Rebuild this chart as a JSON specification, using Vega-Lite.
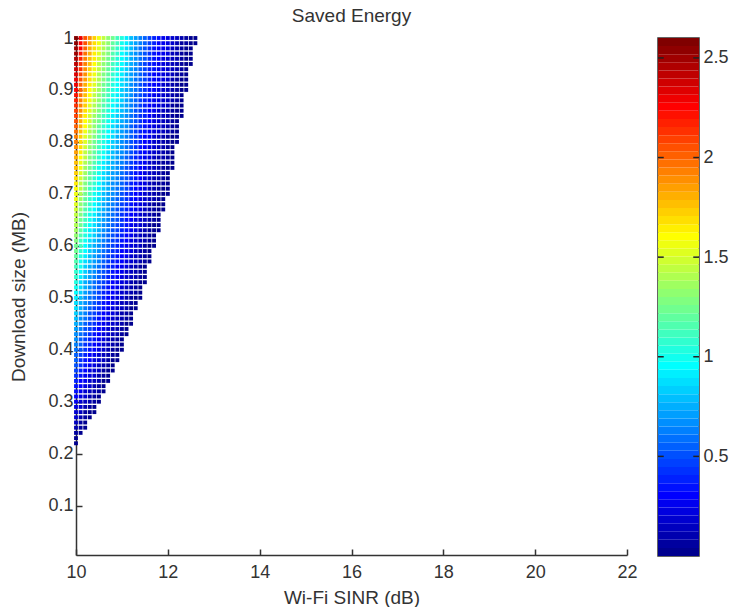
{"$schema":"https://vega.github.io/schema/vega-lite/v6.json","background":"white","padding":{"left":9,"top":7,"right":0,"bottom":0},"spacing":18,"config":{"view":{"stroke":null},"concat":{"spacing":18},"axis":{"labelFont":"Liberation Sans","titleFont":"Liberation Sans","labelFontSize":18,"titleFontSize":19,"labelColor":"#333333","titleColor":"#333333","titleFontWeight":"normal","domainColor":"#333333","tickColor":"#333333","domainWidth":1.5,"tickWidth":1.5,"grid":false,"labelFlush":false,"labelOverlap":false}},"datasets":{"jetbar":[{"l":0,"h":0.0406,"c":0.02},{"l":0.0406,"h":0.0813,"c":0.06},{"l":0.0813,"h":0.1219,"c":0.1},{"l":0.1219,"h":0.1625,"c":0.14},{"l":0.1625,"h":0.2031,"c":0.18},{"l":0.2031,"h":0.2438,"c":0.22},{"l":0.2438,"h":0.2844,"c":0.26},{"l":0.2844,"h":0.325,"c":0.3},{"l":0.325,"h":0.3656,"c":0.345},{"l":0.3656,"h":0.4063,"c":0.385},{"l":0.4063,"h":0.4469,"c":0.425},{"l":0.4469,"h":0.4875,"c":0.465},{"l":0.4875,"h":0.5281,"c":0.51},{"l":0.5281,"h":0.5688,"c":0.55},{"l":0.5688,"h":0.6094,"c":0.59},{"l":0.6094,"h":0.65,"c":0.63},{"l":0.65,"h":0.6906,"c":0.67},{"l":0.6906,"h":0.7313,"c":0.71},{"l":0.7313,"h":0.7719,"c":0.75},{"l":0.7719,"h":0.8125,"c":0.79},{"l":0.8125,"h":0.8531,"c":0.83},{"l":0.8531,"h":0.8938,"c":0.87},{"l":0.8938,"h":0.9344,"c":0.91},{"l":0.9344,"h":0.975,"c":0.955},{"l":0.975,"h":1.0156,"c":0.995},{"l":1.0156,"h":1.0563,"c":1.035},{"l":1.0563,"h":1.0969,"c":1.075},{"l":1.0969,"h":1.1375,"c":1.115},{"l":1.1375,"h":1.1781,"c":1.155},{"l":1.1781,"h":1.2188,"c":1.2},{"l":1.2188,"h":1.2594,"c":1.24},{"l":1.2594,"h":1.3,"c":1.28},{"l":1.3,"h":1.3406,"c":1.32},{"l":1.3406,"h":1.3813,"c":1.36},{"l":1.3813,"h":1.4219,"c":1.4},{"l":1.4219,"h":1.4625,"c":1.44},{"l":1.4625,"h":1.5031,"c":1.48},{"l":1.5031,"h":1.5438,"c":1.52},{"l":1.5438,"h":1.5844,"c":1.565},{"l":1.5844,"h":1.625,"c":1.605},{"l":1.625,"h":1.6656,"c":1.645},{"l":1.6656,"h":1.7063,"c":1.685},{"l":1.7063,"h":1.7469,"c":1.725},{"l":1.7469,"h":1.7875,"c":1.765},{"l":1.7875,"h":1.8281,"c":1.81},{"l":1.8281,"h":1.8688,"c":1.85},{"l":1.8688,"h":1.9094,"c":1.89},{"l":1.9094,"h":1.95,"c":1.93},{"l":1.95,"h":1.9906,"c":1.97},{"l":1.9906,"h":2.0313,"c":2.01},{"l":2.0313,"h":2.0719,"c":2.05},{"l":2.0719,"h":2.1125,"c":2.09},{"l":2.1125,"h":2.1531,"c":2.13},{"l":2.1531,"h":2.1938,"c":2.175},{"l":2.1938,"h":2.2344,"c":2.215},{"l":2.2344,"h":2.275,"c":2.255},{"l":2.275,"h":2.3156,"c":2.295},{"l":2.3156,"h":2.3563,"c":2.335},{"l":2.3563,"h":2.3969,"c":2.375},{"l":2.3969,"h":2.4375,"c":2.42},{"l":2.4375,"h":2.4781,"c":2.46},{"l":2.4781,"h":2.5188,"c":2.5},{"l":2.5188,"h":2.5594,"c":2.54},{"l":2.5594,"h":2.6,"c":2.58}],"pts":[
{"x":10,"y":0.22,"e":0},{"x":10,"y":0.23,"e":0.03},{"x":10,"y":0.24,"e":0.07},{"x":10,"y":0.25,"e":0.1},{"x":10,"y":0.26,"e":0.13},{"x":10,"y":0.27,"e":0.17},{"x":10,"y":0.28,"e":0.2},{"x":10,"y":0.29,"e":0.23},{"x":10,"y":0.3,"e":0.26},{"x":10,"y":0.31,"e":0.3},{"x":10,"y":0.32,"e":0.33},{"x":10,"y":0.33,"e":0.36},{"x":10,"y":0.34,"e":0.4},{"x":10,"y":0.35,"e":0.43},{"x":10,"y":0.36,"e":0.46},{"x":10,"y":0.37,"e":0.5},{"x":10,"y":0.38,"e":0.53},{"x":10,"y":0.39,"e":0.56},{"x":10,"y":0.4,"e":0.59},{"x":10,"y":0.41,"e":0.63},{"x":10,"y":0.42,"e":0.66},{"x":10,"y":0.43,"e":0.69},{"x":10,"y":0.44,"e":0.73},{"x":10,"y":0.45,"e":0.76},{"x":10,"y":0.46,"e":0.79},{"x":10,"y":0.47,"e":0.83},{"x":10,"y":0.48,"e":0.86},{"x":10,"y":0.49,"e":0.89},{"x":10,"y":0.5,"e":0.92},{"x":10,"y":0.51,"e":0.96},{"x":10,"y":0.52,"e":0.99},{"x":10,"y":0.53,"e":1.02},{"x":10,"y":0.54,"e":1.06},{"x":10,"y":0.55,"e":1.09},{"x":10,"y":0.56,"e":1.12},{"x":10,"y":0.57,"e":1.16},{"x":10,"y":0.58,"e":1.19},{"x":10,"y":0.59,"e":1.22},{"x":10,"y":0.6,"e":1.25},{"x":10,"y":0.61,"e":1.29},{"x":10,"y":0.62,"e":1.32},{"x":10,"y":0.63,"e":1.35},{"x":10,"y":0.64,"e":1.39},{"x":10,"y":0.65,"e":1.42},{"x":10,"y":0.66,"e":1.45},{"x":10,"y":0.67,"e":1.49},{"x":10,"y":0.68,"e":1.52},{"x":10,"y":0.69,"e":1.55},{"x":10,"y":0.7,"e":1.58},{"x":10,"y":0.71,"e":1.62},{"x":10,"y":0.72,"e":1.65},{"x":10,"y":0.73,"e":1.68},{"x":10,"y":0.74,"e":1.72},{"x":10,"y":0.75,"e":1.75},{"x":10,"y":0.76,"e":1.78},{"x":10,"y":0.77,"e":1.82},{"x":10,"y":0.78,"e":1.85},{"x":10,"y":0.79,"e":1.88},{"x":10,"y":0.8,"e":1.91},{"x":10,"y":0.81,"e":1.95},{"x":10,"y":0.82,"e":1.98},{"x":10,"y":0.83,"e":2.01},{"x":10,"y":0.84,"e":2.05},{"x":10,"y":0.85,"e":2.08},{"x":10,"y":0.86,"e":2.11},{"x":10,"y":0.87,"e":2.15},{"x":10,"y":0.88,"e":2.18},{"x":10,"y":0.89,"e":2.21},{"x":10,"y":0.9,"e":2.24},{"x":10,"y":0.91,"e":2.28},{"x":10,"y":0.92,"e":2.31},{"x":10,"y":0.93,"e":2.34},{"x":10,"y":0.94,"e":2.38},{"x":10,"y":0.95,"e":2.41},{"x":10,"y":0.96,"e":2.44},{"x":10,"y":0.97,"e":2.48},{"x":10,"y":0.98,"e":2.51},{"x":10,"y":0.99,"e":2.54},{"x":10,"y":1,"e":2.57},
{"x":10.1,"y":0.24,"e":0.02},{"x":10.1,"y":0.25,"e":0.05},{"x":10.1,"y":0.26,"e":0.08},{"x":10.1,"y":0.27,"e":0.11},{"x":10.1,"y":0.28,"e":0.14},{"x":10.1,"y":0.29,"e":0.17},{"x":10.1,"y":0.3,"e":0.2},{"x":10.1,"y":0.31,"e":0.23},{"x":10.1,"y":0.32,"e":0.26},{"x":10.1,"y":0.33,"e":0.29},{"x":10.1,"y":0.34,"e":0.32},{"x":10.1,"y":0.35,"e":0.35},{"x":10.1,"y":0.36,"e":0.38},{"x":10.1,"y":0.37,"e":0.41},{"x":10.1,"y":0.38,"e":0.44},{"x":10.1,"y":0.39,"e":0.47},{"x":10.1,"y":0.4,"e":0.5},{"x":10.1,"y":0.41,"e":0.53},{"x":10.1,"y":0.42,"e":0.56},{"x":10.1,"y":0.43,"e":0.59},{"x":10.1,"y":0.44,"e":0.62},{"x":10.1,"y":0.45,"e":0.65},{"x":10.1,"y":0.46,"e":0.68},{"x":10.1,"y":0.47,"e":0.71},{"x":10.1,"y":0.48,"e":0.74},{"x":10.1,"y":0.49,"e":0.77},{"x":10.1,"y":0.5,"e":0.8},{"x":10.1,"y":0.51,"e":0.83},{"x":10.1,"y":0.52,"e":0.86},{"x":10.1,"y":0.53,"e":0.89},{"x":10.1,"y":0.54,"e":0.92},{"x":10.1,"y":0.55,"e":0.95},{"x":10.1,"y":0.56,"e":0.98},{"x":10.1,"y":0.57,"e":1.01},{"x":10.1,"y":0.58,"e":1.04},{"x":10.1,"y":0.59,"e":1.07},{"x":10.1,"y":0.6,"e":1.1},{"x":10.1,"y":0.61,"e":1.13},{"x":10.1,"y":0.62,"e":1.16},{"x":10.1,"y":0.63,"e":1.19},{"x":10.1,"y":0.64,"e":1.22},{"x":10.1,"y":0.65,"e":1.25},{"x":10.1,"y":0.66,"e":1.28},{"x":10.1,"y":0.67,"e":1.31},{"x":10.1,"y":0.68,"e":1.34},{"x":10.1,"y":0.69,"e":1.37},{"x":10.1,"y":0.7,"e":1.4},{"x":10.1,"y":0.71,"e":1.43},{"x":10.1,"y":0.72,"e":1.46},{"x":10.1,"y":0.73,"e":1.49},{"x":10.1,"y":0.74,"e":1.52},{"x":10.1,"y":0.75,"e":1.55},{"x":10.1,"y":0.76,"e":1.58},{"x":10.1,"y":0.77,"e":1.61},{"x":10.1,"y":0.78,"e":1.64},{"x":10.1,"y":0.79,"e":1.67},{"x":10.1,"y":0.8,"e":1.7},{"x":10.1,"y":0.81,"e":1.73},{"x":10.1,"y":0.82,"e":1.76},{"x":10.1,"y":0.83,"e":1.79},{"x":10.1,"y":0.84,"e":1.82},{"x":10.1,"y":0.85,"e":1.85},{"x":10.1,"y":0.86,"e":1.88},{"x":10.1,"y":0.87,"e":1.91},{"x":10.1,"y":0.88,"e":1.94},{"x":10.1,"y":0.89,"e":1.97},{"x":10.1,"y":0.9,"e":2},{"x":10.1,"y":0.91,"e":2.03},{"x":10.1,"y":0.92,"e":2.06},{"x":10.1,"y":0.93,"e":2.09},{"x":10.1,"y":0.94,"e":2.12},{"x":10.1,"y":0.95,"e":2.15},{"x":10.1,"y":0.96,"e":2.18},{"x":10.1,"y":0.97,"e":2.21},{"x":10.1,"y":0.98,"e":2.24},{"x":10.1,"y":0.99,"e":2.27},{"x":10.1,"y":1,"e":2.3},
{"x":10.2,"y":0.25,"e":0},{"x":10.2,"y":0.26,"e":0.03},{"x":10.2,"y":0.27,"e":0.06},{"x":10.2,"y":0.28,"e":0.08},{"x":10.2,"y":0.29,"e":0.11},{"x":10.2,"y":0.3,"e":0.14},{"x":10.2,"y":0.31,"e":0.17},{"x":10.2,"y":0.32,"e":0.19},{"x":10.2,"y":0.33,"e":0.22},{"x":10.2,"y":0.34,"e":0.25},{"x":10.2,"y":0.35,"e":0.28},{"x":10.2,"y":0.36,"e":0.3},{"x":10.2,"y":0.37,"e":0.33},{"x":10.2,"y":0.38,"e":0.36},{"x":10.2,"y":0.39,"e":0.39},{"x":10.2,"y":0.4,"e":0.41},{"x":10.2,"y":0.41,"e":0.44},{"x":10.2,"y":0.42,"e":0.47},{"x":10.2,"y":0.43,"e":0.5},{"x":10.2,"y":0.44,"e":0.52},{"x":10.2,"y":0.45,"e":0.55},{"x":10.2,"y":0.46,"e":0.58},{"x":10.2,"y":0.47,"e":0.61},{"x":10.2,"y":0.48,"e":0.63},{"x":10.2,"y":0.49,"e":0.66},{"x":10.2,"y":0.5,"e":0.69},{"x":10.2,"y":0.51,"e":0.72},{"x":10.2,"y":0.52,"e":0.74},{"x":10.2,"y":0.53,"e":0.77},{"x":10.2,"y":0.54,"e":0.8},{"x":10.2,"y":0.55,"e":0.83},{"x":10.2,"y":0.56,"e":0.85},{"x":10.2,"y":0.57,"e":0.88},{"x":10.2,"y":0.58,"e":0.91},{"x":10.2,"y":0.59,"e":0.94},{"x":10.2,"y":0.6,"e":0.96},{"x":10.2,"y":0.61,"e":0.99},{"x":10.2,"y":0.62,"e":1.02},{"x":10.2,"y":0.63,"e":1.05},{"x":10.2,"y":0.64,"e":1.07},{"x":10.2,"y":0.65,"e":1.1},{"x":10.2,"y":0.66,"e":1.13},{"x":10.2,"y":0.67,"e":1.16},{"x":10.2,"y":0.68,"e":1.18},{"x":10.2,"y":0.69,"e":1.21},{"x":10.2,"y":0.7,"e":1.24},{"x":10.2,"y":0.71,"e":1.27},{"x":10.2,"y":0.72,"e":1.29},{"x":10.2,"y":0.73,"e":1.32},{"x":10.2,"y":0.74,"e":1.35},{"x":10.2,"y":0.75,"e":1.38},{"x":10.2,"y":0.76,"e":1.4},{"x":10.2,"y":0.77,"e":1.43},{"x":10.2,"y":0.78,"e":1.46},{"x":10.2,"y":0.79,"e":1.49},{"x":10.2,"y":0.8,"e":1.51},{"x":10.2,"y":0.81,"e":1.54},{"x":10.2,"y":0.82,"e":1.57},{"x":10.2,"y":0.83,"e":1.6},{"x":10.2,"y":0.84,"e":1.62},{"x":10.2,"y":0.85,"e":1.65},{"x":10.2,"y":0.86,"e":1.68},{"x":10.2,"y":0.87,"e":1.71},{"x":10.2,"y":0.88,"e":1.73},{"x":10.2,"y":0.89,"e":1.76},{"x":10.2,"y":0.9,"e":1.79},{"x":10.2,"y":0.91,"e":1.82},{"x":10.2,"y":0.92,"e":1.84},{"x":10.2,"y":0.93,"e":1.87},{"x":10.2,"y":0.94,"e":1.9},{"x":10.2,"y":0.95,"e":1.93},{"x":10.2,"y":0.96,"e":1.95},{"x":10.2,"y":0.97,"e":1.98},{"x":10.2,"y":0.98,"e":2.01},{"x":10.2,"y":0.99,"e":2.04},{"x":10.2,"y":1,"e":2.06},
{"x":10.3,"y":0.27,"e":0.01},{"x":10.3,"y":0.28,"e":0.04},{"x":10.3,"y":0.29,"e":0.06},{"x":10.3,"y":0.3,"e":0.09},{"x":10.3,"y":0.31,"e":0.11},{"x":10.3,"y":0.32,"e":0.14},{"x":10.3,"y":0.33,"e":0.17},{"x":10.3,"y":0.34,"e":0.19},{"x":10.3,"y":0.35,"e":0.22},{"x":10.3,"y":0.36,"e":0.24},{"x":10.3,"y":0.37,"e":0.27},{"x":10.3,"y":0.38,"e":0.29},{"x":10.3,"y":0.39,"e":0.32},{"x":10.3,"y":0.4,"e":0.34},{"x":10.3,"y":0.41,"e":0.37},{"x":10.3,"y":0.42,"e":0.4},{"x":10.3,"y":0.43,"e":0.42},{"x":10.3,"y":0.44,"e":0.45},{"x":10.3,"y":0.45,"e":0.47},{"x":10.3,"y":0.46,"e":0.5},{"x":10.3,"y":0.47,"e":0.52},{"x":10.3,"y":0.48,"e":0.55},{"x":10.3,"y":0.49,"e":0.57},{"x":10.3,"y":0.5,"e":0.6},{"x":10.3,"y":0.51,"e":0.62},{"x":10.3,"y":0.52,"e":0.65},{"x":10.3,"y":0.53,"e":0.68},{"x":10.3,"y":0.54,"e":0.7},{"x":10.3,"y":0.55,"e":0.73},{"x":10.3,"y":0.56,"e":0.75},{"x":10.3,"y":0.57,"e":0.78},{"x":10.3,"y":0.58,"e":0.8},{"x":10.3,"y":0.59,"e":0.83},{"x":10.3,"y":0.6,"e":0.85},{"x":10.3,"y":0.61,"e":0.88},{"x":10.3,"y":0.62,"e":0.91},{"x":10.3,"y":0.63,"e":0.93},{"x":10.3,"y":0.64,"e":0.96},{"x":10.3,"y":0.65,"e":0.98},{"x":10.3,"y":0.66,"e":1.01},{"x":10.3,"y":0.67,"e":1.03},{"x":10.3,"y":0.68,"e":1.06},{"x":10.3,"y":0.69,"e":1.08},{"x":10.3,"y":0.7,"e":1.11},{"x":10.3,"y":0.71,"e":1.13},{"x":10.3,"y":0.72,"e":1.16},{"x":10.3,"y":0.73,"e":1.19},{"x":10.3,"y":0.74,"e":1.21},{"x":10.3,"y":0.75,"e":1.24},{"x":10.3,"y":0.76,"e":1.26},{"x":10.3,"y":0.77,"e":1.29},{"x":10.3,"y":0.78,"e":1.31},{"x":10.3,"y":0.79,"e":1.34},{"x":10.3,"y":0.8,"e":1.36},{"x":10.3,"y":0.81,"e":1.39},{"x":10.3,"y":0.82,"e":1.42},{"x":10.3,"y":0.83,"e":1.44},{"x":10.3,"y":0.84,"e":1.47},{"x":10.3,"y":0.85,"e":1.49},{"x":10.3,"y":0.86,"e":1.52},{"x":10.3,"y":0.87,"e":1.54},{"x":10.3,"y":0.88,"e":1.57},{"x":10.3,"y":0.89,"e":1.59},{"x":10.3,"y":0.9,"e":1.62},{"x":10.3,"y":0.91,"e":1.64},{"x":10.3,"y":0.92,"e":1.67},{"x":10.3,"y":0.93,"e":1.7},{"x":10.3,"y":0.94,"e":1.72},{"x":10.3,"y":0.95,"e":1.75},{"x":10.3,"y":0.96,"e":1.77},{"x":10.3,"y":0.97,"e":1.8},{"x":10.3,"y":0.98,"e":1.82},{"x":10.3,"y":0.99,"e":1.85},{"x":10.3,"y":1,"e":1.87},
{"x":10.4,"y":0.28,"e":0},{"x":10.4,"y":0.29,"e":0.02},{"x":10.4,"y":0.3,"e":0.05},{"x":10.4,"y":0.31,"e":0.07},{"x":10.4,"y":0.32,"e":0.1},{"x":10.4,"y":0.33,"e":0.12},{"x":10.4,"y":0.34,"e":0.14},{"x":10.4,"y":0.35,"e":0.17},{"x":10.4,"y":0.36,"e":0.19},{"x":10.4,"y":0.37,"e":0.22},{"x":10.4,"y":0.38,"e":0.24},{"x":10.4,"y":0.39,"e":0.26},{"x":10.4,"y":0.4,"e":0.29},{"x":10.4,"y":0.41,"e":0.31},{"x":10.4,"y":0.42,"e":0.34},{"x":10.4,"y":0.43,"e":0.36},{"x":10.4,"y":0.44,"e":0.38},{"x":10.4,"y":0.45,"e":0.41},{"x":10.4,"y":0.46,"e":0.43},{"x":10.4,"y":0.47,"e":0.46},{"x":10.4,"y":0.48,"e":0.48},{"x":10.4,"y":0.49,"e":0.5},{"x":10.4,"y":0.5,"e":0.53},{"x":10.4,"y":0.51,"e":0.55},{"x":10.4,"y":0.52,"e":0.58},{"x":10.4,"y":0.53,"e":0.6},{"x":10.4,"y":0.54,"e":0.62},{"x":10.4,"y":0.55,"e":0.65},{"x":10.4,"y":0.56,"e":0.67},{"x":10.4,"y":0.57,"e":0.7},{"x":10.4,"y":0.58,"e":0.72},{"x":10.4,"y":0.59,"e":0.74},{"x":10.4,"y":0.6,"e":0.77},{"x":10.4,"y":0.61,"e":0.79},{"x":10.4,"y":0.62,"e":0.82},{"x":10.4,"y":0.63,"e":0.84},{"x":10.4,"y":0.64,"e":0.86},{"x":10.4,"y":0.65,"e":0.89},{"x":10.4,"y":0.66,"e":0.91},{"x":10.4,"y":0.67,"e":0.94},{"x":10.4,"y":0.68,"e":0.96},{"x":10.4,"y":0.69,"e":0.98},{"x":10.4,"y":0.7,"e":1.01},{"x":10.4,"y":0.71,"e":1.03},{"x":10.4,"y":0.72,"e":1.06},{"x":10.4,"y":0.73,"e":1.08},{"x":10.4,"y":0.74,"e":1.1},{"x":10.4,"y":0.75,"e":1.13},{"x":10.4,"y":0.76,"e":1.15},{"x":10.4,"y":0.77,"e":1.18},{"x":10.4,"y":0.78,"e":1.2},{"x":10.4,"y":0.79,"e":1.22},{"x":10.4,"y":0.8,"e":1.25},{"x":10.4,"y":0.81,"e":1.27},{"x":10.4,"y":0.82,"e":1.3},{"x":10.4,"y":0.83,"e":1.32},{"x":10.4,"y":0.84,"e":1.34},{"x":10.4,"y":0.85,"e":1.37},{"x":10.4,"y":0.86,"e":1.39},{"x":10.4,"y":0.87,"e":1.42},{"x":10.4,"y":0.88,"e":1.44},{"x":10.4,"y":0.89,"e":1.46},{"x":10.4,"y":0.9,"e":1.49},{"x":10.4,"y":0.91,"e":1.51},{"x":10.4,"y":0.92,"e":1.54},{"x":10.4,"y":0.93,"e":1.56},{"x":10.4,"y":0.94,"e":1.58},{"x":10.4,"y":0.95,"e":1.61},{"x":10.4,"y":0.96,"e":1.63},{"x":10.4,"y":0.97,"e":1.66},{"x":10.4,"y":0.98,"e":1.68},{"x":10.4,"y":0.99,"e":1.7},{"x":10.4,"y":1,"e":1.73},
{"x":10.5,"y":0.3,"e":0},{"x":10.5,"y":0.31,"e":0.02},{"x":10.5,"y":0.32,"e":0.05},{"x":10.5,"y":0.33,"e":0.07},{"x":10.5,"y":0.34,"e":0.09},{"x":10.5,"y":0.35,"e":0.11},{"x":10.5,"y":0.36,"e":0.14},{"x":10.5,"y":0.37,"e":0.16},{"x":10.5,"y":0.38,"e":0.18},{"x":10.5,"y":0.39,"e":0.2},{"x":10.5,"y":0.4,"e":0.23},{"x":10.5,"y":0.41,"e":0.25},{"x":10.5,"y":0.42,"e":0.27},{"x":10.5,"y":0.43,"e":0.29},{"x":10.5,"y":0.44,"e":0.32},{"x":10.5,"y":0.45,"e":0.34},{"x":10.5,"y":0.46,"e":0.36},{"x":10.5,"y":0.47,"e":0.38},{"x":10.5,"y":0.48,"e":0.41},{"x":10.5,"y":0.49,"e":0.43},{"x":10.5,"y":0.5,"e":0.45},{"x":10.5,"y":0.51,"e":0.47},{"x":10.5,"y":0.52,"e":0.5},{"x":10.5,"y":0.53,"e":0.52},{"x":10.5,"y":0.54,"e":0.54},{"x":10.5,"y":0.55,"e":0.56},{"x":10.5,"y":0.56,"e":0.59},{"x":10.5,"y":0.57,"e":0.61},{"x":10.5,"y":0.58,"e":0.63},{"x":10.5,"y":0.59,"e":0.65},{"x":10.5,"y":0.6,"e":0.68},{"x":10.5,"y":0.61,"e":0.7},{"x":10.5,"y":0.62,"e":0.72},{"x":10.5,"y":0.63,"e":0.74},{"x":10.5,"y":0.64,"e":0.77},{"x":10.5,"y":0.65,"e":0.79},{"x":10.5,"y":0.66,"e":0.81},{"x":10.5,"y":0.67,"e":0.83},{"x":10.5,"y":0.68,"e":0.86},{"x":10.5,"y":0.69,"e":0.88},{"x":10.5,"y":0.7,"e":0.9},{"x":10.5,"y":0.71,"e":0.92},{"x":10.5,"y":0.72,"e":0.95},{"x":10.5,"y":0.73,"e":0.97},{"x":10.5,"y":0.74,"e":0.99},{"x":10.5,"y":0.75,"e":1.01},{"x":10.5,"y":0.76,"e":1.04},{"x":10.5,"y":0.77,"e":1.06},{"x":10.5,"y":0.78,"e":1.08},{"x":10.5,"y":0.79,"e":1.1},{"x":10.5,"y":0.8,"e":1.13},{"x":10.5,"y":0.81,"e":1.15},{"x":10.5,"y":0.82,"e":1.17},{"x":10.5,"y":0.83,"e":1.19},{"x":10.5,"y":0.84,"e":1.22},{"x":10.5,"y":0.85,"e":1.24},{"x":10.5,"y":0.86,"e":1.26},{"x":10.5,"y":0.87,"e":1.28},{"x":10.5,"y":0.88,"e":1.31},{"x":10.5,"y":0.89,"e":1.33},{"x":10.5,"y":0.9,"e":1.35},{"x":10.5,"y":0.91,"e":1.37},{"x":10.5,"y":0.92,"e":1.4},{"x":10.5,"y":0.93,"e":1.42},{"x":10.5,"y":0.94,"e":1.44},{"x":10.5,"y":0.95,"e":1.46},{"x":10.5,"y":0.96,"e":1.49},{"x":10.5,"y":0.97,"e":1.51},{"x":10.5,"y":0.98,"e":1.53},{"x":10.5,"y":0.99,"e":1.55},{"x":10.5,"y":1,"e":1.58},
{"x":10.6,"y":0.32,"e":0},{"x":10.6,"y":0.33,"e":0.02},{"x":10.6,"y":0.34,"e":0.04},{"x":10.6,"y":0.35,"e":0.06},{"x":10.6,"y":0.36,"e":0.08},{"x":10.6,"y":0.37,"e":0.11},{"x":10.6,"y":0.38,"e":0.13},{"x":10.6,"y":0.39,"e":0.15},{"x":10.6,"y":0.4,"e":0.17},{"x":10.6,"y":0.41,"e":0.19},{"x":10.6,"y":0.42,"e":0.21},{"x":10.6,"y":0.43,"e":0.23},{"x":10.6,"y":0.44,"e":0.25},{"x":10.6,"y":0.45,"e":0.28},{"x":10.6,"y":0.46,"e":0.3},{"x":10.6,"y":0.47,"e":0.32},{"x":10.6,"y":0.48,"e":0.34},{"x":10.6,"y":0.49,"e":0.36},{"x":10.6,"y":0.5,"e":0.38},{"x":10.6,"y":0.51,"e":0.4},{"x":10.6,"y":0.52,"e":0.42},{"x":10.6,"y":0.53,"e":0.45},{"x":10.6,"y":0.54,"e":0.47},{"x":10.6,"y":0.55,"e":0.49},{"x":10.6,"y":0.56,"e":0.51},{"x":10.6,"y":0.57,"e":0.53},{"x":10.6,"y":0.58,"e":0.55},{"x":10.6,"y":0.59,"e":0.57},{"x":10.6,"y":0.6,"e":0.59},{"x":10.6,"y":0.61,"e":0.61},{"x":10.6,"y":0.62,"e":0.64},{"x":10.6,"y":0.63,"e":0.66},{"x":10.6,"y":0.64,"e":0.68},{"x":10.6,"y":0.65,"e":0.7},{"x":10.6,"y":0.66,"e":0.72},{"x":10.6,"y":0.67,"e":0.74},{"x":10.6,"y":0.68,"e":0.76},{"x":10.6,"y":0.69,"e":0.78},{"x":10.6,"y":0.7,"e":0.81},{"x":10.6,"y":0.71,"e":0.83},{"x":10.6,"y":0.72,"e":0.85},{"x":10.6,"y":0.73,"e":0.87},{"x":10.6,"y":0.74,"e":0.89},{"x":10.6,"y":0.75,"e":0.91},{"x":10.6,"y":0.76,"e":0.93},{"x":10.6,"y":0.77,"e":0.95},{"x":10.6,"y":0.78,"e":0.98},{"x":10.6,"y":0.79,"e":1},{"x":10.6,"y":0.8,"e":1.02},{"x":10.6,"y":0.81,"e":1.04},{"x":10.6,"y":0.82,"e":1.06},{"x":10.6,"y":0.83,"e":1.08},{"x":10.6,"y":0.84,"e":1.1},{"x":10.6,"y":0.85,"e":1.12},{"x":10.6,"y":0.86,"e":1.14},{"x":10.6,"y":0.87,"e":1.17},{"x":10.6,"y":0.88,"e":1.19},{"x":10.6,"y":0.89,"e":1.21},{"x":10.6,"y":0.9,"e":1.23},{"x":10.6,"y":0.91,"e":1.25},{"x":10.6,"y":0.92,"e":1.27},{"x":10.6,"y":0.93,"e":1.29},{"x":10.6,"y":0.94,"e":1.31},{"x":10.6,"y":0.95,"e":1.34},{"x":10.6,"y":0.96,"e":1.36},{"x":10.6,"y":0.97,"e":1.38},{"x":10.6,"y":0.98,"e":1.4},{"x":10.6,"y":0.99,"e":1.42},{"x":10.6,"y":1,"e":1.44},
{"x":10.7,"y":0.34,"e":0},{"x":10.7,"y":0.35,"e":0.02},{"x":10.7,"y":0.36,"e":0.04},{"x":10.7,"y":0.37,"e":0.06},{"x":10.7,"y":0.38,"e":0.08},{"x":10.7,"y":0.39,"e":0.1},{"x":10.7,"y":0.4,"e":0.12},{"x":10.7,"y":0.41,"e":0.14},{"x":10.7,"y":0.42,"e":0.16},{"x":10.7,"y":0.43,"e":0.18},{"x":10.7,"y":0.44,"e":0.2},{"x":10.7,"y":0.45,"e":0.22},{"x":10.7,"y":0.46,"e":0.24},{"x":10.7,"y":0.47,"e":0.26},{"x":10.7,"y":0.48,"e":0.28},{"x":10.7,"y":0.49,"e":0.3},{"x":10.7,"y":0.5,"e":0.32},{"x":10.7,"y":0.51,"e":0.34},{"x":10.7,"y":0.52,"e":0.36},{"x":10.7,"y":0.53,"e":0.38},{"x":10.7,"y":0.54,"e":0.4},{"x":10.7,"y":0.55,"e":0.42},{"x":10.7,"y":0.56,"e":0.44},{"x":10.7,"y":0.57,"e":0.46},{"x":10.7,"y":0.58,"e":0.48},{"x":10.7,"y":0.59,"e":0.5},{"x":10.7,"y":0.6,"e":0.52},{"x":10.7,"y":0.61,"e":0.54},{"x":10.7,"y":0.62,"e":0.56},{"x":10.7,"y":0.63,"e":0.58},{"x":10.7,"y":0.64,"e":0.6},{"x":10.7,"y":0.65,"e":0.62},{"x":10.7,"y":0.66,"e":0.64},{"x":10.7,"y":0.67,"e":0.66},{"x":10.7,"y":0.68,"e":0.68},{"x":10.7,"y":0.69,"e":0.7},{"x":10.7,"y":0.7,"e":0.72},{"x":10.7,"y":0.71,"e":0.74},{"x":10.7,"y":0.72,"e":0.76},{"x":10.7,"y":0.73,"e":0.78},{"x":10.7,"y":0.74,"e":0.8},{"x":10.7,"y":0.75,"e":0.82},{"x":10.7,"y":0.76,"e":0.84},{"x":10.7,"y":0.77,"e":0.86},{"x":10.7,"y":0.78,"e":0.88},{"x":10.7,"y":0.79,"e":0.9},{"x":10.7,"y":0.8,"e":0.92},{"x":10.7,"y":0.81,"e":0.94},{"x":10.7,"y":0.82,"e":0.96},{"x":10.7,"y":0.83,"e":0.98},{"x":10.7,"y":0.84,"e":1},{"x":10.7,"y":0.85,"e":1.02},{"x":10.7,"y":0.86,"e":1.04},{"x":10.7,"y":0.87,"e":1.06},{"x":10.7,"y":0.88,"e":1.08},{"x":10.7,"y":0.89,"e":1.1},{"x":10.7,"y":0.9,"e":1.12},{"x":10.7,"y":0.91,"e":1.14},{"x":10.7,"y":0.92,"e":1.16},{"x":10.7,"y":0.93,"e":1.18},{"x":10.7,"y":0.94,"e":1.2},{"x":10.7,"y":0.95,"e":1.22},{"x":10.7,"y":0.96,"e":1.24},{"x":10.7,"y":0.97,"e":1.26},{"x":10.7,"y":0.98,"e":1.28},{"x":10.7,"y":0.99,"e":1.3},{"x":10.7,"y":1,"e":1.32},
{"x":10.8,"y":0.36,"e":0},{"x":10.8,"y":0.37,"e":0.02},{"x":10.8,"y":0.38,"e":0.04},{"x":10.8,"y":0.39,"e":0.06},{"x":10.8,"y":0.4,"e":0.08},{"x":10.8,"y":0.41,"e":0.1},{"x":10.8,"y":0.42,"e":0.11},{"x":10.8,"y":0.43,"e":0.13},{"x":10.8,"y":0.44,"e":0.15},{"x":10.8,"y":0.45,"e":0.17},{"x":10.8,"y":0.46,"e":0.19},{"x":10.8,"y":0.47,"e":0.21},{"x":10.8,"y":0.48,"e":0.23},{"x":10.8,"y":0.49,"e":0.25},{"x":10.8,"y":0.5,"e":0.27},{"x":10.8,"y":0.51,"e":0.29},{"x":10.8,"y":0.52,"e":0.3},{"x":10.8,"y":0.53,"e":0.32},{"x":10.8,"y":0.54,"e":0.34},{"x":10.8,"y":0.55,"e":0.36},{"x":10.8,"y":0.56,"e":0.38},{"x":10.8,"y":0.57,"e":0.4},{"x":10.8,"y":0.58,"e":0.42},{"x":10.8,"y":0.59,"e":0.44},{"x":10.8,"y":0.6,"e":0.46},{"x":10.8,"y":0.61,"e":0.48},{"x":10.8,"y":0.62,"e":0.49},{"x":10.8,"y":0.63,"e":0.51},{"x":10.8,"y":0.64,"e":0.53},{"x":10.8,"y":0.65,"e":0.55},{"x":10.8,"y":0.66,"e":0.57},{"x":10.8,"y":0.67,"e":0.59},{"x":10.8,"y":0.68,"e":0.61},{"x":10.8,"y":0.69,"e":0.63},{"x":10.8,"y":0.7,"e":0.65},{"x":10.8,"y":0.71,"e":0.67},{"x":10.8,"y":0.72,"e":0.68},{"x":10.8,"y":0.73,"e":0.7},{"x":10.8,"y":0.74,"e":0.72},{"x":10.8,"y":0.75,"e":0.74},{"x":10.8,"y":0.76,"e":0.76},{"x":10.8,"y":0.77,"e":0.78},{"x":10.8,"y":0.78,"e":0.8},{"x":10.8,"y":0.79,"e":0.82},{"x":10.8,"y":0.8,"e":0.84},{"x":10.8,"y":0.81,"e":0.86},{"x":10.8,"y":0.82,"e":0.87},{"x":10.8,"y":0.83,"e":0.89},{"x":10.8,"y":0.84,"e":0.91},{"x":10.8,"y":0.85,"e":0.93},{"x":10.8,"y":0.86,"e":0.95},{"x":10.8,"y":0.87,"e":0.97},{"x":10.8,"y":0.88,"e":0.99},{"x":10.8,"y":0.89,"e":1.01},{"x":10.8,"y":0.9,"e":1.03},{"x":10.8,"y":0.91,"e":1.05},{"x":10.8,"y":0.92,"e":1.06},{"x":10.8,"y":0.93,"e":1.08},{"x":10.8,"y":0.94,"e":1.1},{"x":10.8,"y":0.95,"e":1.12},{"x":10.8,"y":0.96,"e":1.14},{"x":10.8,"y":0.97,"e":1.16},{"x":10.8,"y":0.98,"e":1.18},{"x":10.8,"y":0.99,"e":1.2},{"x":10.8,"y":1,"e":1.22},
{"x":10.9,"y":0.38,"e":0},{"x":10.9,"y":0.39,"e":0.02},{"x":10.9,"y":0.4,"e":0.04},{"x":10.9,"y":0.41,"e":0.05},{"x":10.9,"y":0.42,"e":0.07},{"x":10.9,"y":0.43,"e":0.09},{"x":10.9,"y":0.44,"e":0.11},{"x":10.9,"y":0.45,"e":0.13},{"x":10.9,"y":0.46,"e":0.14},{"x":10.9,"y":0.47,"e":0.16},{"x":10.9,"y":0.48,"e":0.18},{"x":10.9,"y":0.49,"e":0.2},{"x":10.9,"y":0.5,"e":0.22},{"x":10.9,"y":0.51,"e":0.23},{"x":10.9,"y":0.52,"e":0.25},{"x":10.9,"y":0.53,"e":0.27},{"x":10.9,"y":0.54,"e":0.29},{"x":10.9,"y":0.55,"e":0.31},{"x":10.9,"y":0.56,"e":0.32},{"x":10.9,"y":0.57,"e":0.34},{"x":10.9,"y":0.58,"e":0.36},{"x":10.9,"y":0.59,"e":0.38},{"x":10.9,"y":0.6,"e":0.4},{"x":10.9,"y":0.61,"e":0.41},{"x":10.9,"y":0.62,"e":0.43},{"x":10.9,"y":0.63,"e":0.45},{"x":10.9,"y":0.64,"e":0.47},{"x":10.9,"y":0.65,"e":0.49},{"x":10.9,"y":0.66,"e":0.5},{"x":10.9,"y":0.67,"e":0.52},{"x":10.9,"y":0.68,"e":0.54},{"x":10.9,"y":0.69,"e":0.56},{"x":10.9,"y":0.7,"e":0.58},{"x":10.9,"y":0.71,"e":0.59},{"x":10.9,"y":0.72,"e":0.61},{"x":10.9,"y":0.73,"e":0.63},{"x":10.9,"y":0.74,"e":0.65},{"x":10.9,"y":0.75,"e":0.67},{"x":10.9,"y":0.76,"e":0.68},{"x":10.9,"y":0.77,"e":0.7},{"x":10.9,"y":0.78,"e":0.72},{"x":10.9,"y":0.79,"e":0.74},{"x":10.9,"y":0.8,"e":0.76},{"x":10.9,"y":0.81,"e":0.77},{"x":10.9,"y":0.82,"e":0.79},{"x":10.9,"y":0.83,"e":0.81},{"x":10.9,"y":0.84,"e":0.83},{"x":10.9,"y":0.85,"e":0.85},{"x":10.9,"y":0.86,"e":0.86},{"x":10.9,"y":0.87,"e":0.88},{"x":10.9,"y":0.88,"e":0.9},{"x":10.9,"y":0.89,"e":0.92},{"x":10.9,"y":0.9,"e":0.94},{"x":10.9,"y":0.91,"e":0.95},{"x":10.9,"y":0.92,"e":0.97},{"x":10.9,"y":0.93,"e":0.99},{"x":10.9,"y":0.94,"e":1.01},{"x":10.9,"y":0.95,"e":1.03},{"x":10.9,"y":0.96,"e":1.04},{"x":10.9,"y":0.97,"e":1.06},{"x":10.9,"y":0.98,"e":1.08},{"x":10.9,"y":0.99,"e":1.1},{"x":10.9,"y":1,"e":1.12},
{"x":11,"y":0.4,"e":0},{"x":11,"y":0.41,"e":0.02},{"x":11,"y":0.42,"e":0.03},{"x":11,"y":0.43,"e":0.05},{"x":11,"y":0.44,"e":0.07},{"x":11,"y":0.45,"e":0.09},{"x":11,"y":0.46,"e":0.1},{"x":11,"y":0.47,"e":0.12},{"x":11,"y":0.48,"e":0.14},{"x":11,"y":0.49,"e":0.15},{"x":11,"y":0.5,"e":0.17},{"x":11,"y":0.51,"e":0.19},{"x":11,"y":0.52,"e":0.2},{"x":11,"y":0.53,"e":0.22},{"x":11,"y":0.54,"e":0.24},{"x":11,"y":0.55,"e":0.26},{"x":11,"y":0.56,"e":0.27},{"x":11,"y":0.57,"e":0.29},{"x":11,"y":0.58,"e":0.31},{"x":11,"y":0.59,"e":0.32},{"x":11,"y":0.6,"e":0.34},{"x":11,"y":0.61,"e":0.36},{"x":11,"y":0.62,"e":0.37},{"x":11,"y":0.63,"e":0.39},{"x":11,"y":0.64,"e":0.41},{"x":11,"y":0.65,"e":0.43},{"x":11,"y":0.66,"e":0.44},{"x":11,"y":0.67,"e":0.46},{"x":11,"y":0.68,"e":0.48},{"x":11,"y":0.69,"e":0.49},{"x":11,"y":0.7,"e":0.51},{"x":11,"y":0.71,"e":0.53},{"x":11,"y":0.72,"e":0.54},{"x":11,"y":0.73,"e":0.56},{"x":11,"y":0.74,"e":0.58},{"x":11,"y":0.75,"e":0.6},{"x":11,"y":0.76,"e":0.61},{"x":11,"y":0.77,"e":0.63},{"x":11,"y":0.78,"e":0.65},{"x":11,"y":0.79,"e":0.66},{"x":11,"y":0.8,"e":0.68},{"x":11,"y":0.81,"e":0.7},{"x":11,"y":0.82,"e":0.71},{"x":11,"y":0.83,"e":0.73},{"x":11,"y":0.84,"e":0.75},{"x":11,"y":0.85,"e":0.77},{"x":11,"y":0.86,"e":0.78},{"x":11,"y":0.87,"e":0.8},{"x":11,"y":0.88,"e":0.82},{"x":11,"y":0.89,"e":0.83},{"x":11,"y":0.9,"e":0.85},{"x":11,"y":0.91,"e":0.87},{"x":11,"y":0.92,"e":0.88},{"x":11,"y":0.93,"e":0.9},{"x":11,"y":0.94,"e":0.92},{"x":11,"y":0.95,"e":0.94},{"x":11,"y":0.96,"e":0.95},{"x":11,"y":0.97,"e":0.97},{"x":11,"y":0.98,"e":0.99},{"x":11,"y":0.99,"e":1},{"x":11,"y":1,"e":1.02},
{"x":11.1,"y":0.43,"e":0.01},{"x":11.1,"y":0.44,"e":0.02},{"x":11.1,"y":0.45,"e":0.04},{"x":11.1,"y":0.46,"e":0.06},{"x":11.1,"y":0.47,"e":0.07},{"x":11.1,"y":0.48,"e":0.09},{"x":11.1,"y":0.49,"e":0.1},{"x":11.1,"y":0.5,"e":0.12},{"x":11.1,"y":0.51,"e":0.14},{"x":11.1,"y":0.52,"e":0.15},{"x":11.1,"y":0.53,"e":0.17},{"x":11.1,"y":0.54,"e":0.18},{"x":11.1,"y":0.55,"e":0.2},{"x":11.1,"y":0.56,"e":0.22},{"x":11.1,"y":0.57,"e":0.23},{"x":11.1,"y":0.58,"e":0.25},{"x":11.1,"y":0.59,"e":0.26},{"x":11.1,"y":0.6,"e":0.28},{"x":11.1,"y":0.61,"e":0.3},{"x":11.1,"y":0.62,"e":0.31},{"x":11.1,"y":0.63,"e":0.33},{"x":11.1,"y":0.64,"e":0.34},{"x":11.1,"y":0.65,"e":0.36},{"x":11.1,"y":0.66,"e":0.38},{"x":11.1,"y":0.67,"e":0.39},{"x":11.1,"y":0.68,"e":0.41},{"x":11.1,"y":0.69,"e":0.42},{"x":11.1,"y":0.7,"e":0.44},{"x":11.1,"y":0.71,"e":0.46},{"x":11.1,"y":0.72,"e":0.47},{"x":11.1,"y":0.73,"e":0.49},{"x":11.1,"y":0.74,"e":0.5},{"x":11.1,"y":0.75,"e":0.52},{"x":11.1,"y":0.76,"e":0.54},{"x":11.1,"y":0.77,"e":0.55},{"x":11.1,"y":0.78,"e":0.57},{"x":11.1,"y":0.79,"e":0.58},{"x":11.1,"y":0.8,"e":0.6},{"x":11.1,"y":0.81,"e":0.62},{"x":11.1,"y":0.82,"e":0.63},{"x":11.1,"y":0.83,"e":0.65},{"x":11.1,"y":0.84,"e":0.66},{"x":11.1,"y":0.85,"e":0.68},{"x":11.1,"y":0.86,"e":0.7},{"x":11.1,"y":0.87,"e":0.71},{"x":11.1,"y":0.88,"e":0.73},{"x":11.1,"y":0.89,"e":0.74},{"x":11.1,"y":0.9,"e":0.76},{"x":11.1,"y":0.91,"e":0.78},{"x":11.1,"y":0.92,"e":0.79},{"x":11.1,"y":0.93,"e":0.81},{"x":11.1,"y":0.94,"e":0.82},{"x":11.1,"y":0.95,"e":0.84},{"x":11.1,"y":0.96,"e":0.86},{"x":11.1,"y":0.97,"e":0.87},{"x":11.1,"y":0.98,"e":0.89},{"x":11.1,"y":0.99,"e":0.9},{"x":11.1,"y":1,"e":0.92},
{"x":11.2,"y":0.45,"e":0},{"x":11.2,"y":0.46,"e":0.01},{"x":11.2,"y":0.47,"e":0.03},{"x":11.2,"y":0.48,"e":0.04},{"x":11.2,"y":0.49,"e":0.06},{"x":11.2,"y":0.5,"e":0.07},{"x":11.2,"y":0.51,"e":0.09},{"x":11.2,"y":0.52,"e":0.1},{"x":11.2,"y":0.53,"e":0.12},{"x":11.2,"y":0.54,"e":0.13},{"x":11.2,"y":0.55,"e":0.15},{"x":11.2,"y":0.56,"e":0.16},{"x":11.2,"y":0.57,"e":0.18},{"x":11.2,"y":0.58,"e":0.19},{"x":11.2,"y":0.59,"e":0.21},{"x":11.2,"y":0.6,"e":0.22},{"x":11.2,"y":0.61,"e":0.24},{"x":11.2,"y":0.62,"e":0.25},{"x":11.2,"y":0.63,"e":0.27},{"x":11.2,"y":0.64,"e":0.28},{"x":11.2,"y":0.65,"e":0.3},{"x":11.2,"y":0.66,"e":0.31},{"x":11.2,"y":0.67,"e":0.33},{"x":11.2,"y":0.68,"e":0.34},{"x":11.2,"y":0.69,"e":0.36},{"x":11.2,"y":0.7,"e":0.37},{"x":11.2,"y":0.71,"e":0.38},{"x":11.2,"y":0.72,"e":0.4},{"x":11.2,"y":0.73,"e":0.41},{"x":11.2,"y":0.74,"e":0.43},{"x":11.2,"y":0.75,"e":0.44},{"x":11.2,"y":0.76,"e":0.46},{"x":11.2,"y":0.77,"e":0.47},{"x":11.2,"y":0.78,"e":0.49},{"x":11.2,"y":0.79,"e":0.5},{"x":11.2,"y":0.8,"e":0.52},{"x":11.2,"y":0.81,"e":0.53},{"x":11.2,"y":0.82,"e":0.55},{"x":11.2,"y":0.83,"e":0.56},{"x":11.2,"y":0.84,"e":0.58},{"x":11.2,"y":0.85,"e":0.59},{"x":11.2,"y":0.86,"e":0.61},{"x":11.2,"y":0.87,"e":0.62},{"x":11.2,"y":0.88,"e":0.64},{"x":11.2,"y":0.89,"e":0.65},{"x":11.2,"y":0.9,"e":0.67},{"x":11.2,"y":0.91,"e":0.68},{"x":11.2,"y":0.92,"e":0.7},{"x":11.2,"y":0.93,"e":0.71},{"x":11.2,"y":0.94,"e":0.73},{"x":11.2,"y":0.95,"e":0.74},{"x":11.2,"y":0.96,"e":0.75},{"x":11.2,"y":0.97,"e":0.77},{"x":11.2,"y":0.98,"e":0.78},{"x":11.2,"y":0.99,"e":0.8},{"x":11.2,"y":1,"e":0.81},
{"x":11.3,"y":0.48,"e":0.01},{"x":11.3,"y":0.49,"e":0.02},{"x":11.3,"y":0.5,"e":0.03},{"x":11.3,"y":0.51,"e":0.05},{"x":11.3,"y":0.52,"e":0.06},{"x":11.3,"y":0.53,"e":0.07},{"x":11.3,"y":0.54,"e":0.09},{"x":11.3,"y":0.55,"e":0.1},{"x":11.3,"y":0.56,"e":0.12},{"x":11.3,"y":0.57,"e":0.13},{"x":11.3,"y":0.58,"e":0.14},{"x":11.3,"y":0.59,"e":0.16},{"x":11.3,"y":0.6,"e":0.17},{"x":11.3,"y":0.61,"e":0.18},{"x":11.3,"y":0.62,"e":0.2},{"x":11.3,"y":0.63,"e":0.21},{"x":11.3,"y":0.64,"e":0.22},{"x":11.3,"y":0.65,"e":0.24},{"x":11.3,"y":0.66,"e":0.25},{"x":11.3,"y":0.67,"e":0.27},{"x":11.3,"y":0.68,"e":0.28},{"x":11.3,"y":0.69,"e":0.29},{"x":11.3,"y":0.7,"e":0.31},{"x":11.3,"y":0.71,"e":0.32},{"x":11.3,"y":0.72,"e":0.33},{"x":11.3,"y":0.73,"e":0.35},{"x":11.3,"y":0.74,"e":0.36},{"x":11.3,"y":0.75,"e":0.37},{"x":11.3,"y":0.76,"e":0.39},{"x":11.3,"y":0.77,"e":0.4},{"x":11.3,"y":0.78,"e":0.41},{"x":11.3,"y":0.79,"e":0.43},{"x":11.3,"y":0.8,"e":0.44},{"x":11.3,"y":0.81,"e":0.46},{"x":11.3,"y":0.82,"e":0.47},{"x":11.3,"y":0.83,"e":0.48},{"x":11.3,"y":0.84,"e":0.5},{"x":11.3,"y":0.85,"e":0.51},{"x":11.3,"y":0.86,"e":0.52},{"x":11.3,"y":0.87,"e":0.54},{"x":11.3,"y":0.88,"e":0.55},{"x":11.3,"y":0.89,"e":0.56},{"x":11.3,"y":0.9,"e":0.58},{"x":11.3,"y":0.91,"e":0.59},{"x":11.3,"y":0.92,"e":0.6},{"x":11.3,"y":0.93,"e":0.62},{"x":11.3,"y":0.94,"e":0.63},{"x":11.3,"y":0.95,"e":0.65},{"x":11.3,"y":0.96,"e":0.66},{"x":11.3,"y":0.97,"e":0.67},{"x":11.3,"y":0.98,"e":0.69},{"x":11.3,"y":0.99,"e":0.7},{"x":11.3,"y":1,"e":0.71},
{"x":11.4,"y":0.5,"e":0},{"x":11.4,"y":0.51,"e":0.01},{"x":11.4,"y":0.52,"e":0.03},{"x":11.4,"y":0.53,"e":0.04},{"x":11.4,"y":0.54,"e":0.05},{"x":11.4,"y":0.55,"e":0.06},{"x":11.4,"y":0.56,"e":0.08},{"x":11.4,"y":0.57,"e":0.09},{"x":11.4,"y":0.58,"e":0.1},{"x":11.4,"y":0.59,"e":0.11},{"x":11.4,"y":0.6,"e":0.13},{"x":11.4,"y":0.61,"e":0.14},{"x":11.4,"y":0.62,"e":0.15},{"x":11.4,"y":0.63,"e":0.16},{"x":11.4,"y":0.64,"e":0.18},{"x":11.4,"y":0.65,"e":0.19},{"x":11.4,"y":0.66,"e":0.2},{"x":11.4,"y":0.67,"e":0.21},{"x":11.4,"y":0.68,"e":0.23},{"x":11.4,"y":0.69,"e":0.24},{"x":11.4,"y":0.7,"e":0.25},{"x":11.4,"y":0.71,"e":0.26},{"x":11.4,"y":0.72,"e":0.28},{"x":11.4,"y":0.73,"e":0.29},{"x":11.4,"y":0.74,"e":0.3},{"x":11.4,"y":0.75,"e":0.31},{"x":11.4,"y":0.76,"e":0.33},{"x":11.4,"y":0.77,"e":0.34},{"x":11.4,"y":0.78,"e":0.35},{"x":11.4,"y":0.79,"e":0.36},{"x":11.4,"y":0.8,"e":0.38},{"x":11.4,"y":0.81,"e":0.39},{"x":11.4,"y":0.82,"e":0.4},{"x":11.4,"y":0.83,"e":0.41},{"x":11.4,"y":0.84,"e":0.43},{"x":11.4,"y":0.85,"e":0.44},{"x":11.4,"y":0.86,"e":0.45},{"x":11.4,"y":0.87,"e":0.46},{"x":11.4,"y":0.88,"e":0.48},{"x":11.4,"y":0.89,"e":0.49},{"x":11.4,"y":0.9,"e":0.5},{"x":11.4,"y":0.91,"e":0.51},{"x":11.4,"y":0.92,"e":0.53},{"x":11.4,"y":0.93,"e":0.54},{"x":11.4,"y":0.94,"e":0.55},{"x":11.4,"y":0.95,"e":0.56},{"x":11.4,"y":0.96,"e":0.58},{"x":11.4,"y":0.97,"e":0.59},{"x":11.4,"y":0.98,"e":0.6},{"x":11.4,"y":0.99,"e":0.61},{"x":11.4,"y":1,"e":0.63},
{"x":11.5,"y":0.53,"e":0},{"x":11.5,"y":0.54,"e":0.01},{"x":11.5,"y":0.55,"e":0.02},{"x":11.5,"y":0.56,"e":0.03},{"x":11.5,"y":0.57,"e":0.05},{"x":11.5,"y":0.58,"e":0.06},{"x":11.5,"y":0.59,"e":0.07},{"x":11.5,"y":0.6,"e":0.08},{"x":11.5,"y":0.61,"e":0.09},{"x":11.5,"y":0.62,"e":0.1},{"x":11.5,"y":0.63,"e":0.12},{"x":11.5,"y":0.64,"e":0.13},{"x":11.5,"y":0.65,"e":0.14},{"x":11.5,"y":0.66,"e":0.15},{"x":11.5,"y":0.67,"e":0.16},{"x":11.5,"y":0.68,"e":0.17},{"x":11.5,"y":0.69,"e":0.18},{"x":11.5,"y":0.7,"e":0.2},{"x":11.5,"y":0.71,"e":0.21},{"x":11.5,"y":0.72,"e":0.22},{"x":11.5,"y":0.73,"e":0.23},{"x":11.5,"y":0.74,"e":0.24},{"x":11.5,"y":0.75,"e":0.25},{"x":11.5,"y":0.76,"e":0.26},{"x":11.5,"y":0.77,"e":0.28},{"x":11.5,"y":0.78,"e":0.29},{"x":11.5,"y":0.79,"e":0.3},{"x":11.5,"y":0.8,"e":0.31},{"x":11.5,"y":0.81,"e":0.32},{"x":11.5,"y":0.82,"e":0.33},{"x":11.5,"y":0.83,"e":0.35},{"x":11.5,"y":0.84,"e":0.36},{"x":11.5,"y":0.85,"e":0.37},{"x":11.5,"y":0.86,"e":0.38},{"x":11.5,"y":0.87,"e":0.39},{"x":11.5,"y":0.88,"e":0.4},{"x":11.5,"y":0.89,"e":0.41},{"x":11.5,"y":0.9,"e":0.43},{"x":11.5,"y":0.91,"e":0.44},{"x":11.5,"y":0.92,"e":0.45},{"x":11.5,"y":0.93,"e":0.46},{"x":11.5,"y":0.94,"e":0.47},{"x":11.5,"y":0.95,"e":0.48},{"x":11.5,"y":0.96,"e":0.49},{"x":11.5,"y":0.97,"e":0.51},{"x":11.5,"y":0.98,"e":0.52},{"x":11.5,"y":0.99,"e":0.53},{"x":11.5,"y":1,"e":0.54},
{"x":11.6,"y":0.57,"e":0.01},{"x":11.6,"y":0.58,"e":0.02},{"x":11.6,"y":0.59,"e":0.03},{"x":11.6,"y":0.6,"e":0.04},{"x":11.6,"y":0.61,"e":0.05},{"x":11.6,"y":0.62,"e":0.06},{"x":11.6,"y":0.63,"e":0.07},{"x":11.6,"y":0.64,"e":0.08},{"x":11.6,"y":0.65,"e":0.09},{"x":11.6,"y":0.66,"e":0.1},{"x":11.6,"y":0.67,"e":0.11},{"x":11.6,"y":0.68,"e":0.12},{"x":11.6,"y":0.69,"e":0.13},{"x":11.6,"y":0.7,"e":0.14},{"x":11.6,"y":0.71,"e":0.15},{"x":11.6,"y":0.72,"e":0.16},{"x":11.6,"y":0.73,"e":0.17},{"x":11.6,"y":0.74,"e":0.18},{"x":11.6,"y":0.75,"e":0.19},{"x":11.6,"y":0.76,"e":0.2},{"x":11.6,"y":0.77,"e":0.21},{"x":11.6,"y":0.78,"e":0.22},{"x":11.6,"y":0.79,"e":0.24},{"x":11.6,"y":0.8,"e":0.25},{"x":11.6,"y":0.81,"e":0.26},{"x":11.6,"y":0.82,"e":0.27},{"x":11.6,"y":0.83,"e":0.28},{"x":11.6,"y":0.84,"e":0.29},{"x":11.6,"y":0.85,"e":0.3},{"x":11.6,"y":0.86,"e":0.31},{"x":11.6,"y":0.87,"e":0.32},{"x":11.6,"y":0.88,"e":0.33},{"x":11.6,"y":0.89,"e":0.34},{"x":11.6,"y":0.9,"e":0.35},{"x":11.6,"y":0.91,"e":0.36},{"x":11.6,"y":0.92,"e":0.37},{"x":11.6,"y":0.93,"e":0.38},{"x":11.6,"y":0.94,"e":0.39},{"x":11.6,"y":0.95,"e":0.4},{"x":11.6,"y":0.96,"e":0.41},{"x":11.6,"y":0.97,"e":0.42},{"x":11.6,"y":0.98,"e":0.43},{"x":11.6,"y":0.99,"e":0.45},{"x":11.6,"y":1,"e":0.46},
{"x":11.7,"y":0.6,"e":0},{"x":11.7,"y":0.61,"e":0.01},{"x":11.7,"y":0.62,"e":0.02},{"x":11.7,"y":0.63,"e":0.03},{"x":11.7,"y":0.64,"e":0.04},{"x":11.7,"y":0.65,"e":0.05},{"x":11.7,"y":0.66,"e":0.06},{"x":11.7,"y":0.67,"e":0.07},{"x":11.7,"y":0.68,"e":0.08},{"x":11.7,"y":0.69,"e":0.09},{"x":11.7,"y":0.7,"e":0.1},{"x":11.7,"y":0.71,"e":0.11},{"x":11.7,"y":0.72,"e":0.12},{"x":11.7,"y":0.73,"e":0.12},{"x":11.7,"y":0.74,"e":0.13},{"x":11.7,"y":0.75,"e":0.14},{"x":11.7,"y":0.76,"e":0.15},{"x":11.7,"y":0.77,"e":0.16},{"x":11.7,"y":0.78,"e":0.17},{"x":11.7,"y":0.79,"e":0.18},{"x":11.7,"y":0.8,"e":0.19},{"x":11.7,"y":0.81,"e":0.2},{"x":11.7,"y":0.82,"e":0.21},{"x":11.7,"y":0.83,"e":0.22},{"x":11.7,"y":0.84,"e":0.23},{"x":11.7,"y":0.85,"e":0.24},{"x":11.7,"y":0.86,"e":0.25},{"x":11.7,"y":0.87,"e":0.26},{"x":11.7,"y":0.88,"e":0.27},{"x":11.7,"y":0.89,"e":0.28},{"x":11.7,"y":0.9,"e":0.29},{"x":11.7,"y":0.91,"e":0.3},{"x":11.7,"y":0.92,"e":0.31},{"x":11.7,"y":0.93,"e":0.32},{"x":11.7,"y":0.94,"e":0.33},{"x":11.7,"y":0.95,"e":0.34},{"x":11.7,"y":0.96,"e":0.35},{"x":11.7,"y":0.97,"e":0.36},{"x":11.7,"y":0.98,"e":0.36},{"x":11.7,"y":0.99,"e":0.37},{"x":11.7,"y":1,"e":0.38},
{"x":11.8,"y":0.63,"e":0},{"x":11.8,"y":0.64,"e":0.01},{"x":11.8,"y":0.65,"e":0.02},{"x":11.8,"y":0.66,"e":0.03},{"x":11.8,"y":0.67,"e":0.04},{"x":11.8,"y":0.68,"e":0.04},{"x":11.8,"y":0.69,"e":0.05},{"x":11.8,"y":0.7,"e":0.06},{"x":11.8,"y":0.71,"e":0.07},{"x":11.8,"y":0.72,"e":0.08},{"x":11.8,"y":0.73,"e":0.09},{"x":11.8,"y":0.74,"e":0.1},{"x":11.8,"y":0.75,"e":0.11},{"x":11.8,"y":0.76,"e":0.11},{"x":11.8,"y":0.77,"e":0.12},{"x":11.8,"y":0.78,"e":0.13},{"x":11.8,"y":0.79,"e":0.14},{"x":11.8,"y":0.8,"e":0.15},{"x":11.8,"y":0.81,"e":0.16},{"x":11.8,"y":0.82,"e":0.17},{"x":11.8,"y":0.83,"e":0.18},{"x":11.8,"y":0.84,"e":0.18},{"x":11.8,"y":0.85,"e":0.19},{"x":11.8,"y":0.86,"e":0.2},{"x":11.8,"y":0.87,"e":0.21},{"x":11.8,"y":0.88,"e":0.22},{"x":11.8,"y":0.89,"e":0.23},{"x":11.8,"y":0.9,"e":0.24},{"x":11.8,"y":0.91,"e":0.25},{"x":11.8,"y":0.92,"e":0.26},{"x":11.8,"y":0.93,"e":0.26},{"x":11.8,"y":0.94,"e":0.27},{"x":11.8,"y":0.95,"e":0.28},{"x":11.8,"y":0.96,"e":0.29},{"x":11.8,"y":0.97,"e":0.3},{"x":11.8,"y":0.98,"e":0.31},{"x":11.8,"y":0.99,"e":0.32},{"x":11.8,"y":1,"e":0.33},
{"x":11.9,"y":0.67,"e":0},{"x":11.9,"y":0.68,"e":0.01},{"x":11.9,"y":0.69,"e":0.02},{"x":11.9,"y":0.7,"e":0.03},{"x":11.9,"y":0.71,"e":0.04},{"x":11.9,"y":0.72,"e":0.05},{"x":11.9,"y":0.73,"e":0.05},{"x":11.9,"y":0.74,"e":0.06},{"x":11.9,"y":0.75,"e":0.07},{"x":11.9,"y":0.76,"e":0.08},{"x":11.9,"y":0.77,"e":0.09},{"x":11.9,"y":0.78,"e":0.09},{"x":11.9,"y":0.79,"e":0.1},{"x":11.9,"y":0.8,"e":0.11},{"x":11.9,"y":0.81,"e":0.12},{"x":11.9,"y":0.82,"e":0.13},{"x":11.9,"y":0.83,"e":0.13},{"x":11.9,"y":0.84,"e":0.14},{"x":11.9,"y":0.85,"e":0.15},{"x":11.9,"y":0.86,"e":0.16},{"x":11.9,"y":0.87,"e":0.17},{"x":11.9,"y":0.88,"e":0.17},{"x":11.9,"y":0.89,"e":0.18},{"x":11.9,"y":0.9,"e":0.19},{"x":11.9,"y":0.91,"e":0.2},{"x":11.9,"y":0.92,"e":0.21},{"x":11.9,"y":0.93,"e":0.21},{"x":11.9,"y":0.94,"e":0.22},{"x":11.9,"y":0.95,"e":0.23},{"x":11.9,"y":0.96,"e":0.24},{"x":11.9,"y":0.97,"e":0.25},{"x":11.9,"y":0.98,"e":0.25},{"x":11.9,"y":0.99,"e":0.26},{"x":11.9,"y":1,"e":0.27},
{"x":12,"y":0.7,"e":0},{"x":12,"y":0.71,"e":0.01},{"x":12,"y":0.72,"e":0.02},{"x":12,"y":0.73,"e":0.02},{"x":12,"y":0.74,"e":0.03},{"x":12,"y":0.75,"e":0.04},{"x":12,"y":0.76,"e":0.05},{"x":12,"y":0.77,"e":0.05},{"x":12,"y":0.78,"e":0.06},{"x":12,"y":0.79,"e":0.07},{"x":12,"y":0.8,"e":0.08},{"x":12,"y":0.81,"e":0.08},{"x":12,"y":0.82,"e":0.09},{"x":12,"y":0.83,"e":0.1},{"x":12,"y":0.84,"e":0.11},{"x":12,"y":0.85,"e":0.11},{"x":12,"y":0.86,"e":0.12},{"x":12,"y":0.87,"e":0.13},{"x":12,"y":0.88,"e":0.14},{"x":12,"y":0.89,"e":0.14},{"x":12,"y":0.9,"e":0.15},{"x":12,"y":0.91,"e":0.16},{"x":12,"y":0.92,"e":0.17},{"x":12,"y":0.93,"e":0.17},{"x":12,"y":0.94,"e":0.18},{"x":12,"y":0.95,"e":0.19},{"x":12,"y":0.96,"e":0.2},{"x":12,"y":0.97,"e":0.21},{"x":12,"y":0.98,"e":0.21},{"x":12,"y":0.99,"e":0.22},{"x":12,"y":1,"e":0.23},
{"x":12.1,"y":0.75,"e":0},{"x":12.1,"y":0.76,"e":0.01},{"x":12.1,"y":0.77,"e":0.01},{"x":12.1,"y":0.78,"e":0.02},{"x":12.1,"y":0.79,"e":0.03},{"x":12.1,"y":0.8,"e":0.04},{"x":12.1,"y":0.81,"e":0.04},{"x":12.1,"y":0.82,"e":0.05},{"x":12.1,"y":0.83,"e":0.06},{"x":12.1,"y":0.84,"e":0.06},{"x":12.1,"y":0.85,"e":0.07},{"x":12.1,"y":0.86,"e":0.08},{"x":12.1,"y":0.87,"e":0.08},{"x":12.1,"y":0.88,"e":0.09},{"x":12.1,"y":0.89,"e":0.1},{"x":12.1,"y":0.9,"e":0.11},{"x":12.1,"y":0.91,"e":0.11},{"x":12.1,"y":0.92,"e":0.12},{"x":12.1,"y":0.93,"e":0.13},{"x":12.1,"y":0.94,"e":0.13},{"x":12.1,"y":0.95,"e":0.14},{"x":12.1,"y":0.96,"e":0.15},{"x":12.1,"y":0.97,"e":0.15},{"x":12.1,"y":0.98,"e":0.16},{"x":12.1,"y":0.99,"e":0.17},{"x":12.1,"y":1,"e":0.18},
{"x":12.2,"y":0.8,"e":0},{"x":12.2,"y":0.81,"e":0.01},{"x":12.2,"y":0.82,"e":0.01},{"x":12.2,"y":0.83,"e":0.02},{"x":12.2,"y":0.84,"e":0.03},{"x":12.2,"y":0.85,"e":0.03},{"x":12.2,"y":0.86,"e":0.04},{"x":12.2,"y":0.87,"e":0.04},{"x":12.2,"y":0.88,"e":0.05},{"x":12.2,"y":0.89,"e":0.06},{"x":12.2,"y":0.9,"e":0.06},{"x":12.2,"y":0.91,"e":0.07},{"x":12.2,"y":0.92,"e":0.08},{"x":12.2,"y":0.93,"e":0.08},{"x":12.2,"y":0.94,"e":0.09},{"x":12.2,"y":0.95,"e":0.1},{"x":12.2,"y":0.96,"e":0.1},{"x":12.2,"y":0.97,"e":0.11},{"x":12.2,"y":0.98,"e":0.12},{"x":12.2,"y":0.99,"e":0.12},{"x":12.2,"y":1,"e":0.13},
{"x":12.3,"y":0.85,"e":0},{"x":12.3,"y":0.86,"e":0.01},{"x":12.3,"y":0.87,"e":0.01},{"x":12.3,"y":0.88,"e":0.02},{"x":12.3,"y":0.89,"e":0.02},{"x":12.3,"y":0.9,"e":0.03},{"x":12.3,"y":0.91,"e":0.03},{"x":12.3,"y":0.92,"e":0.04},{"x":12.3,"y":0.93,"e":0.05},{"x":12.3,"y":0.94,"e":0.05},{"x":12.3,"y":0.95,"e":0.06},{"x":12.3,"y":0.96,"e":0.06},{"x":12.3,"y":0.97,"e":0.07},{"x":12.3,"y":0.98,"e":0.08},{"x":12.3,"y":0.99,"e":0.08},{"x":12.3,"y":1,"e":0.09},
{"x":12.4,"y":0.9,"e":0},{"x":12.4,"y":0.91,"e":0.01},{"x":12.4,"y":0.92,"e":0.01},{"x":12.4,"y":0.93,"e":0.02},{"x":12.4,"y":0.94,"e":0.02},{"x":12.4,"y":0.95,"e":0.03},{"x":12.4,"y":0.96,"e":0.03},{"x":12.4,"y":0.97,"e":0.04},{"x":12.4,"y":0.98,"e":0.04},{"x":12.4,"y":0.99,"e":0.05},{"x":12.4,"y":1,"e":0.05},
{"x":12.5,"y":0.95,"e":0},{"x":12.5,"y":0.96,"e":0},{"x":12.5,"y":0.97,"e":0.01},{"x":12.5,"y":0.98,"e":0.01},{"x":12.5,"y":0.99,"e":0.02},{"x":12.5,"y":1,"e":0.02},
{"x":12.6,"y":0.99,"e":0},{"x":12.6,"y":1,"e":0.01}
]},"hconcat":[{"width":551,"height":517,"title":{"text":"Saved Energy","font":"Liberation Sans","fontSize":19,"fontWeight":"normal","color":"#333333","offset":3},"data":{"name":"pts"},"mark":{"type":"point","shape":"square","filled":true,"size":15,"opacity":1},"encoding":{"x":{"field":"x","type":"quantitative","title":"Wi-Fi SINR (dB)","scale":{"domain":[10,22],"nice":false,"zero":false},"axis":{"values":[10,12,14,16,18,20,22],"tickSize":-6,"labelPadding":14,"titlePadding":7,"format":"d"}},"y":{"field":"y","type":"quantitative","title":"Download size (MB)","scale":{"domain":[0.005,1],"nice":false,"zero":false},"axis":{"values":[0.1,0.2,0.3,0.4,0.5,0.6,0.7,0.8,0.9,1],"tickSize":-6,"labelPadding":9,"titlePadding":19,"format":"~g"}},"color":{"field":"e","type":"quantitative","legend":null,"scale":{"type":"quantize","domain":[0,2.6],"range":["#00008f","#00009f","#0000af","#0000bf","#0000cf","#0000df","#0000ef","#0000ff","#0010ff","#0020ff","#0030ff","#0040ff","#0050ff","#0060ff","#0070ff","#0080ff","#008fff","#009fff","#00afff","#00bfff","#00cfff","#00dfff","#00efff","#00ffff","#10ffef","#20ffdf","#30ffcf","#40ffbf","#50ffaf","#60ff9f","#70ff8f","#80ff80","#8fff70","#9fff60","#afff50","#bfff40","#cfff30","#dfff20","#efff10","#ffff00","#ffef00","#ffdf00","#ffcf00","#ffbf00","#ffaf00","#ff9f00","#ff8f00","#ff8000","#ff7000","#ff6000","#ff5000","#ff4000","#ff3000","#ff2000","#ff1000","#ff0000","#ef0000","#df0000","#cf0000","#bf0000","#af0000","#9f0000","#8f0000","#800000"]}}}},{"width":41,"height":518,"view":{"stroke":"#333333","strokeWidth":1.5},"layer":[{"data":{"name":"jetbar"},"mark":{"type":"rect"},"encoding":{"y":{"field":"l","type":"quantitative","title":null,"scale":{"domain":[0,2.6],"nice":false},"axis":{"orient":"right","values":[0.5,1,1.5,2,2.5],"tickSize":0,"labelPadding":4,"format":"~g","domain":false}},"y2":{"field":"h"},"color":{"field":"c","type":"quantitative","legend":null,"scale":{"type":"quantize","domain":[0,2.6],"range":["#00008f","#00009f","#0000af","#0000bf","#0000cf","#0000df","#0000ef","#0000ff","#0010ff","#0020ff","#0030ff","#0040ff","#0050ff","#0060ff","#0070ff","#0080ff","#008fff","#009fff","#00afff","#00bfff","#00cfff","#00dfff","#00efff","#00ffff","#10ffef","#20ffdf","#30ffcf","#40ffbf","#50ffaf","#60ff9f","#70ff8f","#80ff80","#8fff70","#9fff60","#afff50","#bfff40","#cfff30","#dfff20","#efff10","#ffff00","#ffef00","#ffdf00","#ffcf00","#ffbf00","#ffaf00","#ff9f00","#ff8f00","#ff8000","#ff7000","#ff6000","#ff5000","#ff4000","#ff3000","#ff2000","#ff1000","#ff0000","#ef0000","#df0000","#cf0000","#bf0000","#af0000","#9f0000","#8f0000","#800000"]}}}},{"data":{"values":[{"t":0.5,"a":0,"b":0.14},{"t":0.5,"a":0.86,"b":1},{"t":1,"a":0,"b":0.14},{"t":1,"a":0.86,"b":1},{"t":1.5,"a":0,"b":0.14},{"t":1.5,"a":0.86,"b":1},{"t":2,"a":0,"b":0.14},{"t":2,"a":0.86,"b":1},{"t":2.5,"a":0,"b":0.14},{"t":2.5,"a":0.86,"b":1}]},"mark":{"type":"rule","color":"#222222","strokeWidth":1.5},"encoding":{"x":{"field":"a","type":"quantitative","axis":null,"scale":{"domain":[0,1],"nice":false}},"x2":{"field":"b"},"y":{"field":"t","type":"quantitative"}}}]}],"resolve":{"scale":{"color":"independent"}}}
